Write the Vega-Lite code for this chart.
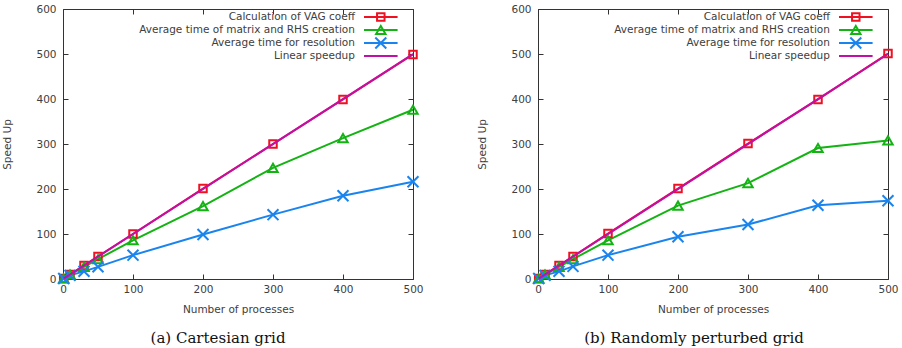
{
  "$schema": "https://vega.github.io/schema/vega-lite/v6.json",
  "padding": {"left": 2, "top": 3, "right": 4, "bottom": 0},
  "spacing": 53,
  "datasets": {
    "cartesian": [
      {"procs": 1, "speedup": 1, "series": "Calculation of VAG coeff"},
      {"procs": 10, "speedup": 10, "series": "Calculation of VAG coeff"},
      {"procs": 30, "speedup": 30, "series": "Calculation of VAG coeff"},
      {"procs": 50, "speedup": 50, "series": "Calculation of VAG coeff"},
      {"procs": 100, "speedup": 100, "series": "Calculation of VAG coeff"},
      {"procs": 200, "speedup": 201, "series": "Calculation of VAG coeff"},
      {"procs": 300, "speedup": 300, "series": "Calculation of VAG coeff"},
      {"procs": 400, "speedup": 399, "series": "Calculation of VAG coeff"},
      {"procs": 500, "speedup": 499, "series": "Calculation of VAG coeff"},
      {"procs": 1, "speedup": 1, "series": "Average time of matrix and RHS creation"},
      {"procs": 10, "speedup": 10, "series": "Average time of matrix and RHS creation"},
      {"procs": 30, "speedup": 27, "series": "Average time of matrix and RHS creation"},
      {"procs": 50, "speedup": 44, "series": "Average time of matrix and RHS creation"},
      {"procs": 100, "speedup": 86, "series": "Average time of matrix and RHS creation"},
      {"procs": 200, "speedup": 162, "series": "Average time of matrix and RHS creation"},
      {"procs": 300, "speedup": 247, "series": "Average time of matrix and RHS creation"},
      {"procs": 400, "speedup": 313, "series": "Average time of matrix and RHS creation"},
      {"procs": 500, "speedup": 376, "series": "Average time of matrix and RHS creation"},
      {"procs": 1, "speedup": 1, "series": "Average time for resolution"},
      {"procs": 10, "speedup": 8, "series": "Average time for resolution"},
      {"procs": 30, "speedup": 17, "series": "Average time for resolution"},
      {"procs": 50, "speedup": 27, "series": "Average time for resolution"},
      {"procs": 100, "speedup": 53, "series": "Average time for resolution"},
      {"procs": 200, "speedup": 99, "series": "Average time for resolution"},
      {"procs": 300, "speedup": 143, "series": "Average time for resolution"},
      {"procs": 400, "speedup": 185, "series": "Average time for resolution"},
      {"procs": 500, "speedup": 216, "series": "Average time for resolution"},
      {"procs": 1, "speedup": 1, "series": "Linear speedup"},
      {"procs": 500, "speedup": 500, "series": "Linear speedup"}
    ],
    "perturbed": [
      {"procs": 1, "speedup": 1, "series": "Calculation of VAG coeff"},
      {"procs": 10, "speedup": 10, "series": "Calculation of VAG coeff"},
      {"procs": 30, "speedup": 30, "series": "Calculation of VAG coeff"},
      {"procs": 50, "speedup": 50, "series": "Calculation of VAG coeff"},
      {"procs": 100, "speedup": 101, "series": "Calculation of VAG coeff"},
      {"procs": 200, "speedup": 201, "series": "Calculation of VAG coeff"},
      {"procs": 300, "speedup": 301, "series": "Calculation of VAG coeff"},
      {"procs": 400, "speedup": 399, "series": "Calculation of VAG coeff"},
      {"procs": 500, "speedup": 501, "series": "Calculation of VAG coeff"},
      {"procs": 1, "speedup": 1, "series": "Average time of matrix and RHS creation"},
      {"procs": 10, "speedup": 10, "series": "Average time of matrix and RHS creation"},
      {"procs": 30, "speedup": 27, "series": "Average time of matrix and RHS creation"},
      {"procs": 50, "speedup": 44, "series": "Average time of matrix and RHS creation"},
      {"procs": 100, "speedup": 86, "series": "Average time of matrix and RHS creation"},
      {"procs": 200, "speedup": 163, "series": "Average time of matrix and RHS creation"},
      {"procs": 300, "speedup": 213, "series": "Average time of matrix and RHS creation"},
      {"procs": 400, "speedup": 291, "series": "Average time of matrix and RHS creation"},
      {"procs": 500, "speedup": 308, "series": "Average time of matrix and RHS creation"},
      {"procs": 1, "speedup": 1, "series": "Average time for resolution"},
      {"procs": 10, "speedup": 8, "series": "Average time for resolution"},
      {"procs": 30, "speedup": 17, "series": "Average time for resolution"},
      {"procs": 50, "speedup": 28, "series": "Average time for resolution"},
      {"procs": 100, "speedup": 53, "series": "Average time for resolution"},
      {"procs": 200, "speedup": 94, "series": "Average time for resolution"},
      {"procs": 300, "speedup": 121, "series": "Average time for resolution"},
      {"procs": 400, "speedup": 164, "series": "Average time for resolution"},
      {"procs": 500, "speedup": 174, "series": "Average time for resolution"},
      {"procs": 1, "speedup": 1, "series": "Linear speedup"},
      {"procs": 500, "speedup": 500, "series": "Linear speedup"}
    ],
    "keys": [
      {"series": "Calculation of VAG coeff"},
      {"series": "Average time of matrix and RHS creation"},
      {"series": "Average time for resolution"},
      {"series": "Linear speedup"}
    ]
  },
  "hconcat": [
    {
      "width": 350,
      "height": 270,
      "title": {"text": "(a) Cartesian grid", "orient": "bottom", "anchor": "middle", "frame": "group", "dx": -20, "offset": 16},
      "resolve": {"scale": {"y": "independent"}, "axis": {"x": "independent", "y": "independent"}},
      "layer": [
        {
          "data": {"name": "cartesian"},
          "resolve": {"axis": {"x": "independent", "y": "independent"}},
          "layer": [
            {
              "transform": [{"filter": "datum.series !== 'Linear speedup'"}],
              "mark": {"type": "line", "strokeWidth": 2},
              "encoding": {
                "x": {"field": "procs", "type": "quantitative", "scale": {"domain": [0, 500], "nice": false},
                      "axis": {"values": [0, 100, 200, 300, 400, 500], "title": "Number of processes"}},
                "y": {"field": "speedup", "type": "quantitative", "scale": {"domain": [0, 600], "nice": false},
                      "axis": {"values": [0, 100, 200, 300, 400, 500, 600], "title": "Speed Up"}},
                "color": {"field": "series", "type": "nominal", "legend": null,
                          "scale": {"domain": ["Calculation of VAG coeff", "Average time of matrix and RHS creation", "Average time for resolution", "Linear speedup"],
                                    "range": ["#ee1122", "#13b313", "#1a84ee", "#c010a8"]}}
              }
            },
            {
              "transform": [{"filter": "datum.series !== 'Linear speedup'"}],
              "mark": {"type": "point", "filled": false, "strokeWidth": 2, "opacity": 1},
              "encoding": {
                "x": {"field": "procs", "type": "quantitative", "axis": null},
                "y": {"field": "speedup", "type": "quantitative", "axis": null},
                "color": {"field": "series", "type": "nominal", "legend": null},
                "shape": {"field": "series", "type": "nominal", "legend": null,
                          "scale": {"domain": ["Calculation of VAG coeff", "Average time of matrix and RHS creation", "Average time for resolution"],
                                    "range": ["square", "triangle-up", "M-1,-1L1,1M1,-1L-1,1"]}},
                "size": {"field": "series", "type": "nominal", "legend": null,
                         "scale": {"domain": ["Calculation of VAG coeff", "Average time of matrix and RHS creation", "Average time for resolution"],
                                   "range": [56, 120, 72]}}
              }
            },
            {
              "transform": [{"filter": "datum.series === 'Linear speedup'"}],
              "mark": {"type": "line", "strokeWidth": 2},
              "encoding": {
                "x": {"field": "procs", "type": "quantitative",
                      "axis": {"orient": "top", "values": [0, 100, 200, 300, 400, 500], "labels": false, "title": null}},
                "y": {"field": "speedup", "type": "quantitative",
                      "axis": {"orient": "right", "values": [0, 100, 200, 300, 400, 500, 600], "labels": false, "title": null}},
                "color": {"field": "series", "type": "nominal", "legend": null}
              }
            }
          ]
        },
        {
          "data": {"name": "keys"},
          "encoding": {
            "y": {"field": "series", "type": "nominal", "axis": null,
                  "scale": {"domain": ["Calculation of VAG coeff", "Average time of matrix and RHS creation", "Average time for resolution", "Linear speedup"], "range": [1.5, 53.5]}},
            "color": {"field": "series", "type": "nominal", "legend": null}
          },
          "layer": [
            {
              "mark": {"type": "rule", "strokeWidth": 2},
              "encoding": {"x": {"datum": 430, "type": "quantitative", "axis": null}, "x2": {"datum": 478}}
            },
            {
              "transform": [{"filter": "datum.series !== 'Linear speedup'"}],
              "mark": {"type": "point", "filled": false, "strokeWidth": 2, "opacity": 1},
              "encoding": {
                "x": {"datum": 454, "type": "quantitative", "axis": null},
                "shape": {"field": "series", "type": "nominal", "legend": null},
                "size": {"field": "series", "type": "nominal", "legend": null}
              }
            },
            {
              "mark": {"type": "text", "align": "right", "baseline": "middle", "fontSize": 10.5},
              "encoding": {
                "x": {"datum": 417, "type": "quantitative", "axis": null},
                "text": {"field": "series"},
                "color": {"value": "#404040"}
              }
            }
          ]
        }
      ]
    },
    {
      "width": 350,
      "height": 270,
      "title": {"text": "(b) Randomly perturbed grid", "orient": "bottom", "anchor": "middle", "frame": "group", "dx": -19, "offset": 16},
      "resolve": {"scale": {"y": "independent"}, "axis": {"x": "independent", "y": "independent"}},
      "layer": [
        {
          "data": {"name": "perturbed"},
          "resolve": {"axis": {"x": "independent", "y": "independent"}},
          "layer": [
            {
              "transform": [{"filter": "datum.series !== 'Linear speedup'"}],
              "mark": {"type": "line", "strokeWidth": 2},
              "encoding": {
                "x": {"field": "procs", "type": "quantitative", "scale": {"domain": [0, 500], "nice": false},
                      "axis": {"values": [0, 100, 200, 300, 400, 500], "title": "Number of processes"}},
                "y": {"field": "speedup", "type": "quantitative", "scale": {"domain": [0, 600], "nice": false},
                      "axis": {"values": [0, 100, 200, 300, 400, 500, 600], "title": "Speed Up"}},
                "color": {"field": "series", "type": "nominal", "legend": null,
                          "scale": {"domain": ["Calculation of VAG coeff", "Average time of matrix and RHS creation", "Average time for resolution", "Linear speedup"],
                                    "range": ["#ee1122", "#13b313", "#1a84ee", "#c010a8"]}}
              }
            },
            {
              "transform": [{"filter": "datum.series !== 'Linear speedup'"}],
              "mark": {"type": "point", "filled": false, "strokeWidth": 2, "opacity": 1},
              "encoding": {
                "x": {"field": "procs", "type": "quantitative", "axis": null},
                "y": {"field": "speedup", "type": "quantitative", "axis": null},
                "color": {"field": "series", "type": "nominal", "legend": null},
                "shape": {"field": "series", "type": "nominal", "legend": null,
                          "scale": {"domain": ["Calculation of VAG coeff", "Average time of matrix and RHS creation", "Average time for resolution"],
                                    "range": ["square", "triangle-up", "M-1,-1L1,1M1,-1L-1,1"]}},
                "size": {"field": "series", "type": "nominal", "legend": null,
                         "scale": {"domain": ["Calculation of VAG coeff", "Average time of matrix and RHS creation", "Average time for resolution"],
                                   "range": [56, 120, 72]}}
              }
            },
            {
              "transform": [{"filter": "datum.series === 'Linear speedup'"}],
              "mark": {"type": "line", "strokeWidth": 2},
              "encoding": {
                "x": {"field": "procs", "type": "quantitative",
                      "axis": {"orient": "top", "values": [0, 100, 200, 300, 400, 500], "labels": false, "title": null}},
                "y": {"field": "speedup", "type": "quantitative",
                      "axis": {"orient": "right", "values": [0, 100, 200, 300, 400, 500, 600], "labels": false, "title": null}},
                "color": {"field": "series", "type": "nominal", "legend": null}
              }
            }
          ]
        },
        {
          "data": {"name": "keys"},
          "encoding": {
            "y": {"field": "series", "type": "nominal", "axis": null,
                  "scale": {"domain": ["Calculation of VAG coeff", "Average time of matrix and RHS creation", "Average time for resolution", "Linear speedup"], "range": [1.5, 53.5]}},
            "color": {"field": "series", "type": "nominal", "legend": null}
          },
          "layer": [
            {
              "mark": {"type": "rule", "strokeWidth": 2},
              "encoding": {"x": {"datum": 430, "type": "quantitative", "axis": null}, "x2": {"datum": 478}}
            },
            {
              "transform": [{"filter": "datum.series !== 'Linear speedup'"}],
              "mark": {"type": "point", "filled": false, "strokeWidth": 2, "opacity": 1},
              "encoding": {
                "x": {"datum": 454, "type": "quantitative", "axis": null},
                "shape": {"field": "series", "type": "nominal", "legend": null},
                "size": {"field": "series", "type": "nominal", "legend": null}
              }
            },
            {
              "mark": {"type": "text", "align": "right", "baseline": "middle", "fontSize": 10.5},
              "encoding": {
                "x": {"datum": 417, "type": "quantitative", "axis": null},
                "text": {"field": "series"},
                "color": {"value": "#404040"}
              }
            }
          ]
        }
      ]
    }
  ],
  "config": {
    "font": "DejaVu Sans",
    "view": {"stroke": "#333333", "strokeWidth": 1},
    "axis": {
      "grid": false,
      "domain": false,
      "ticks": true,
      "tickSize": -5,
      "tickColor": "#333333",
      "labelFlush": false,
      "labelFont": "DejaVu Sans",
      "labelFontSize": 10.5,
      "labelColor": "#404040",
      "titleFont": "DejaVu Sans",
      "titleFontSize": 10.5,
      "titleFontWeight": "normal",
      "titleColor": "#404040"
    },
    "axisX": {"labelPadding": 10, "titlePadding": 10},
    "axisY": {"labelPadding": 12, "titlePadding": 23},
    "title": {"font": "DejaVu Serif", "fontSize": 15, "fontWeight": "normal", "color": "#111111"}
  }
}
